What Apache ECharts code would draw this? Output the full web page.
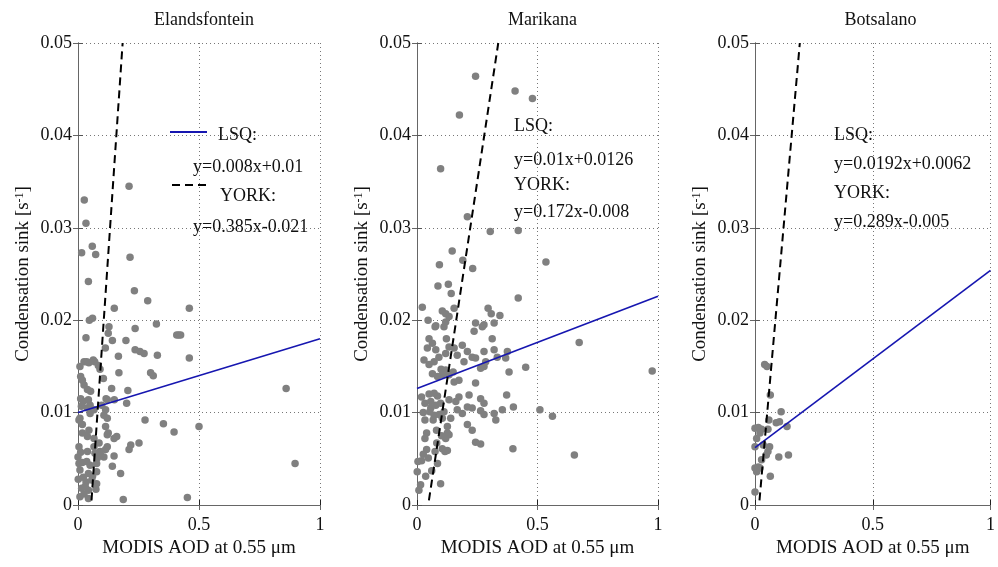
<!DOCTYPE html>
<html>
<head>
<meta charset="utf-8">
<script src="https://cdn.jsdelivr.net/npm/echarts@6/dist/echarts.min.js"></script>
<style>
  html, body { margin: 0; padding: 0; background: #fff; }
  #chart { width: 998px; height: 567px; }
</style>
</head>
<body>
<div id="chart"></div>
<script>
// Site names (one panel per site)
const sites = ['Elandsfontein', 'Marikana', 'Botsalano'];

// Axis settings
const xRange = [0, 1];
const xStep = 0.5;
const yRange = [0, 0.05];
const yStep = 0.01;
const xAxisTitle = 'MODIS AOD at 0.55 \u03bcm';
const yAxisTitle = 'Condensation sink [s{sup|-1}]';

// Observations: [AOD, condensation sink]
const elandsfonteinPoints = [
  [0.211,0.0345],[0.026,0.0330],[0.033,0.0305],[0.015,0.0273],[0.059,0.0280],[0.073,0.0271],[0.215,0.0268],
  [0.043,0.0242],[0.233,0.0232],[0.288,0.0221],[0.150,0.0213],[0.460,0.0213],[0.060,0.0202],[0.047,0.0200],
  [0.128,0.0193],[0.324,0.0196],[0.236,0.0191],[0.125,0.0186],[0.408,0.0184],[0.424,0.0184],[0.416,0.0184],[0.033,0.0181],
  [0.142,0.0178],[0.198,0.0178],[0.113,0.0170],[0.236,0.0168],[0.256,0.0166],[0.273,0.0164],[0.328,0.0162],[0.167,0.0161],[0.460,0.0159],
  [0.008,0.0150],[0.025,0.0155],[0.036,0.0155],[0.045,0.0154],[0.063,0.0157],[0.069,0.0155],[0.084,0.0151],[0.091,0.0147],
  [0.169,0.0143],[0.300,0.0143],[0.311,0.0140],[0.011,0.0139],[0.018,0.0135],[0.105,0.0137],
  [0.025,0.0130],[0.039,0.0125],[0.052,0.0123],[0.139,0.0126],[0.860,0.0126],[0.206,0.0124],
  [0.011,0.0115],[0.022,0.0112],[0.014,0.0107],[0.043,0.0114],[0.116,0.0115],[0.121,0.0114],[0.150,0.0114],[0.201,0.0110],
  [0.039,0.0105],[0.066,0.0103],[0.050,0.0108],[0.098,0.0108],[0.114,0.0103],[0.107,0.0097],[0.121,0.0094],[0.114,0.0085],[0.050,0.0099],
  [0.004,0.0092],[0.018,0.0087],[0.008,0.0094],[0.277,0.0092],[0.353,0.0088],[0.500,0.0085],[0.397,0.0079],
  [0.045,0.0081],[0.018,0.0078],[0.039,0.0074],[0.066,0.0072],[0.087,0.0067],[0.121,0.0076],[0.149,0.0072],[0.160,0.0074],[0.125,0.0078],
  [0.121,0.0063],[0.114,0.0060],[0.218,0.0065],[0.252,0.0067],[0.211,0.0060],
  [0.004,0.0063],[0.000,0.0052],[0.011,0.0057],[0.039,0.0058],[0.066,0.0063],[0.070,0.0056],[0.091,0.0058],
  [0.094,0.0054],[0.080,0.0051],[0.107,0.0052],[0.149,0.0053],
  [0.004,0.0045],[0.018,0.0046],[0.036,0.0047],[0.050,0.0043],[0.077,0.0045],[0.142,0.0042],[0.897,0.0045],
  [0.176,0.0034],[0.008,0.0038],[0.043,0.0034],[0.077,0.0036],[0.060,0.0031],
  [0.001,0.0028],[0.033,0.0025],[0.057,0.0027],[0.077,0.0023],[0.022,0.0030],
  [0.015,0.0018],[0.043,0.0016],[0.074,0.0017],[0.030,0.0020],
  [0.008,0.0009],[0.043,0.0007],[0.025,0.0012],[0.187,0.0006],[0.452,0.0008]
];

const marikanaPoints = [
  [0.243,0.0464],[0.407,0.0448],[0.479,0.0440],[0.176,0.0422],[0.098,0.0364],
  [0.209,0.0312],[0.304,0.0296],[0.420,0.0297],[0.146,0.0275],[0.093,0.0260],[0.190,0.0265],[0.231,0.0256],[0.535,0.0263],
  [0.087,0.0237],[0.130,0.0239],[0.142,0.0229],[0.420,0.0224],
  [0.022,0.0214],[0.105,0.0210],[0.119,0.0207],[0.133,0.0204],[0.154,0.0213],[0.046,0.0200],[0.078,0.0194],[0.119,0.0198],
  [0.295,0.0213],[0.308,0.0207],[0.344,0.0205],[0.278,0.0195],[0.320,0.0197],[0.243,0.0197],
  [0.075,0.0193],[0.112,0.0193],[0.237,0.0188],[0.271,0.0193],[0.312,0.0180],
  [0.050,0.0180],[0.064,0.0175],[0.043,0.0170],[0.078,0.0168],
  [0.122,0.0180],[0.133,0.0171],[0.119,0.0164],[0.154,0.0170],[0.167,0.0162],
  [0.188,0.0173],[0.209,0.0166],[0.195,0.0155],[0.229,0.0160],[0.243,0.0159],[0.278,0.0166],[0.285,0.0155],
  [0.320,0.0168],[0.333,0.0160],[0.375,0.0166],[0.368,0.0159],[0.382,0.0144],[0.451,0.0149],[0.673,0.0176],[0.976,0.0145],
  [0.029,0.0157],[0.050,0.0152],[0.071,0.0155],[0.091,0.0160],
  [0.064,0.0142],[0.085,0.0139],[0.105,0.0141],[0.119,0.0146],[0.133,0.0141],[0.150,0.0144],[0.100,0.0147],
  [0.264,0.0148],[0.278,0.0150],[0.154,0.0133],[0.174,0.0135],[0.243,0.0132],
  [0.019,0.0117],[0.050,0.0120],[0.071,0.0121],[0.085,0.0118],[0.057,0.0112],[0.033,0.0110],[0.057,0.0105],[0.078,0.0108],[0.098,0.0110],
  [0.133,0.0114],[0.161,0.0112],[0.174,0.0117],[0.216,0.0119],[0.264,0.0115],[0.278,0.0110],[0.372,0.0119],
  [0.209,0.0106],[0.229,0.0105],[0.167,0.0103],[0.188,0.0099],[0.264,0.0102],[0.278,0.0098],
  [0.320,0.0099],[0.327,0.0092],[0.354,0.0103],[0.400,0.0106],[0.510,0.0103],[0.562,0.0096],
  [0.026,0.0100],[0.053,0.0101],[0.071,0.0097],[0.092,0.0098],[0.112,0.0101],[0.033,0.0092],[0.067,0.0092],[0.105,0.0094],[0.140,0.0094],[0.126,0.0085],
  [0.209,0.0087],[0.229,0.0081],
  [0.040,0.0078],[0.033,0.0072],[0.081,0.0081],[0.102,0.0075],[0.126,0.0078],[0.119,0.0072],[0.133,0.0076],
  [0.243,0.0068],[0.264,0.0066],[0.398,0.0061],[0.653,0.0054],
  [0.040,0.0060],[0.026,0.0055],[0.047,0.0051],[0.019,0.0048],[0.082,0.0067],[0.075,0.0058],[0.116,0.0058],[0.105,0.0061],[0.126,0.0059],
  [0.004,0.0047],[0.001,0.0036],[0.036,0.0031],[0.015,0.0022],[0.008,0.0016],[0.098,0.0023],[0.061,0.0037],[0.085,0.0045]
];

const botsalanoPoints = [
  [0.041,0.0152],[0.051,0.0150],[0.065,0.0119],[0.111,0.0101],[0.090,0.0089],[0.104,0.0090],[0.136,0.0085],[0.059,0.0092],
  [0.000,0.0083],[0.014,0.0084],[0.028,0.0082],[0.021,0.0078],[0.007,0.0072],[0.055,0.0082],[0.000,0.0063],
  [0.062,0.0063],[0.055,0.0058],[0.048,0.0054],[0.101,0.0052],[0.142,0.0054],
  [0.028,0.0049],[0.014,0.0041],[0.007,0.0036],[0.021,0.0040],[0.065,0.0031],[0.000,0.0014],[0.000,0.0040],[0.035,0.0065]
];

// Regression fits per site: [slope, intercept]
const lsqFits = [[0.008, 0.01], [0.01, 0.0126], [0.0192, 0.0062]];
const yorkFits = [[0.385, -0.021], [0.172, -0.008], [0.289, -0.005]];
// York lines are drawn over this range of condensation sink
const yorkSpan = [0.0005, 0.05];

// Annotation text per site
const fitLabels = [
  ['LSQ:', 'y=0.008x+0.01', 'YORK:', 'y=0.385x-0.021'],
  ['LSQ:', 'y=0.01x+0.0126', 'YORK:', 'y=0.172x-0.008'],
  ['LSQ:', 'y=0.0192x+0.0062', 'YORK:', 'y=0.289x-0.005']
];

const allPoints = [elandsfonteinPoints, marikanaPoints, botsalanoPoints];

// ---- layout & style ----
const FONT = '"Liberation Serif", "Times New Roman", serif';
const TXT = '#111';
const LSQ_COLOR = '#1616b0';
const gridLeft = [78, 417, 755];
const gridWidth = [242, 241, 241];
const gridTop = 43, gridHeight = 462;

const grids = [], xAxes = [], yAxes = [], series = [], titles = [];

sites.forEach((site, i) => {
  grids.push({ left: gridLeft[i], top: gridTop, width: gridWidth[i], height: gridHeight, containLabel: false });
  titles.push({
    text: site, left: gridLeft[i] + gridWidth[i] / 2, top: 6, textAlign: 'center',
    textStyle: { fontFamily: FONT, fontSize: 18, fontWeight: 'normal', color: TXT }
  });

  // bottom axis with labels
  xAxes.push({
    gridIndex: i, type: 'value', min: xRange[0], max: xRange[1], interval: xStep,
    name: xAxisTitle, nameLocation: 'middle', nameGap: 27,
    nameTextStyle: { fontFamily: FONT, fontSize: 19, color: TXT },
    axisLine: { show: true, lineStyle: { color: '#222', width: 1 } },
    axisTick: { show: true, inside: true, length: 5, lineStyle: { color: '#222' } },
    axisLabel: { fontFamily: FONT, fontSize: 18, color: TXT, margin: 11 },
    splitLine: { show: true, lineStyle: { type: [1, 3], color: '#777', width: 1 } }
  });
  // top frame axis
  xAxes.push({
    gridIndex: i, type: 'value', position: 'top', min: xRange[0], max: xRange[1], interval: xStep,
    axisLine: { show: true, lineStyle: { color: '#666', width: 1 } },
    axisTick: { show: true, inside: true, length: 5, lineStyle: { color: '#666' } },
    axisLabel: { show: false }, splitLine: { show: false }
  });

  // left axis with labels
  yAxes.push({
    gridIndex: i, type: 'value', min: yRange[0], max: yRange[1], interval: yStep,
    name: yAxisTitle, nameLocation: 'middle', nameGap: 45, nameRotate: 90,
    nameTextStyle: {
      fontFamily: FONT, fontSize: 19, color: TXT,
      rich: { sup: { fontFamily: FONT, fontSize: 12, color: TXT, verticalAlign: 'top', padding: [0, 0, 6, 0] } }
    },
    axisLine: { show: true, lineStyle: { color: '#555', width: 1 } },
    axisTick: { show: true, inside: true, length: 5, lineStyle: { color: '#555' } },
    axisLabel: { fontFamily: FONT, fontSize: 18, color: TXT, margin: 6 },
    splitLine: { show: true, lineStyle: { type: [1, 3], color: '#777', width: 1 } }
  });
  // right frame axis
  yAxes.push({
    gridIndex: i, type: 'value', position: 'right', min: yRange[0], max: yRange[1], interval: yStep,
    axisLine: { show: true, lineStyle: { color: '#666', width: 1 } },
    axisTick: { show: true, inside: true, length: 5, lineStyle: { color: '#666' } },
    axisLabel: { show: false }, splitLine: { show: false }
  });

  const xa = i * 2, ya = i * 2;

  series.push({
    type: 'scatter', xAxisIndex: xa, yAxisIndex: ya, data: allPoints[i],
    symbolSize: 7.5, itemStyle: { color: '#808080', opacity: 1 }, z: 2
  });

  const [la, lb] = lsqFits[i];
  series.push({
    type: 'line', xAxisIndex: xa, yAxisIndex: ya, showSymbol: false, silent: true,
    data: [[xRange[0], la * xRange[0] + lb], [xRange[1], la * xRange[1] + lb]],
    lineStyle: { color: LSQ_COLOR, width: 1.6 }, z: 3
  });

  const [ya1, yb] = yorkFits[i];
  series.push({
    type: 'line', xAxisIndex: xa, yAxisIndex: ya, showSymbol: false, silent: true,
    data: yorkSpan.map(v => [(v - yb) / ya1, v]),
    lineStyle: { color: '#000', width: 2, type: [8, 5] }, z: 4
  });
});

// ---- annotations ----
const txt = (s, x, y) => ({
  type: 'text', x, y, z: 10,
  style: { text: s, font: '18px ' + FONT, fill: TXT, verticalAlign: 'middle', align: 'left' }
});

const graphic = [
  // legend keys in the first panel
  { type: 'line', z: 10, shape: { x1: 170, y1: 132, x2: 207, y2: 132 }, style: { stroke: LSQ_COLOR, lineWidth: 2.2 } },
  { type: 'line', z: 10, shape: { x1: 172, y1: 185, x2: 207, y2: 185 }, style: { stroke: '#000', lineWidth: 2.2, lineDash: [8, 5] } },
  txt(fitLabels[0][0], 218, 135), txt(fitLabels[0][1], 193, 167),
  txt(fitLabels[0][2], 220, 196), txt(fitLabels[0][3], 193, 227),
  txt(fitLabels[1][0], 514, 126), txt(fitLabels[1][1], 514, 160),
  txt(fitLabels[1][2], 514, 185), txt(fitLabels[1][3], 514, 212),
  txt(fitLabels[2][0], 834, 135), txt(fitLabels[2][1], 834, 164),
  txt(fitLabels[2][2], 834, 193), txt(fitLabels[2][3], 834, 222)
];

const chart = echarts.init(document.getElementById('chart'), null, { renderer: 'canvas' });
chart.setOption({
  backgroundColor: '#fff',
  animation: false,
  title: titles,
  grid: grids,
  xAxis: xAxes,
  yAxis: yAxes,
  series: series,
  graphic: graphic
});
</script>
</body>
</html>
